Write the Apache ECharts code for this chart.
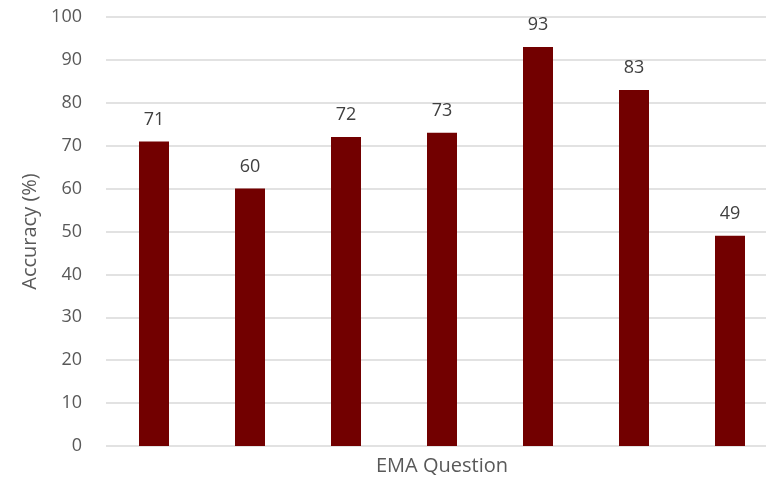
<!DOCTYPE html>
<html><head><meta charset="utf-8">
<script src="https://cdn.jsdelivr.net/npm/echarts@6/dist/echarts.min.js"></script>
<style>html,body{margin:0;padding:0;background:#fff}#c{width:766px;height:481px}</style>
</head><body><div id="c"></div>
<script>
const categories = ['Q1','Q2','Q3','Q4','Q5','Q6','Q7'];
const accuracy = [71, 60, 72, 73, 93, 83, 49];
const yTicks = {min: 0, max: 100, interval: 10};
const chart = echarts.init(document.getElementById('c'));
chart.setOption({
  animation: false,
  grid: {left: 106, top: 17, width: 672, height: 429, containLabel: false, outerBoundsMode: 'none'},
  xAxis: {
    type: 'category', data: categories,
    name: 'EMA Question', nameLocation: 'middle', nameGap: 10,
    nameTextStyle: {color: '#595959', fontSize: 20, fontFamily: 'Open Sans'},
    axisLine: {show: false}, axisTick: {show: false}, axisLabel: {show: false}
  },
  yAxis: {
    type: 'value', min: yTicks.min, max: yTicks.max, interval: yTicks.interval,
    name: 'Accuracy (%)', nameLocation: 'middle', nameGap: 64,
    nameTextStyle: {color: '#595959', fontSize: 20, fontFamily: 'Open Sans'},
    axisLine: {show: false}, axisTick: {show: false},
    axisLabel: {color: '#595959', fontSize: 18, fontFamily: 'Open Sans', margin: 24},
    splitLine: {lineStyle: {color: '#d9d9d9', width: 1.5}}
  },
  series: [{
    type: 'bar', data: accuracy, barWidth: 30,
    itemStyle: {color: '#720000'},
    label: {show: true, position: 'top', distance: 13, color: '#404040', fontSize: 18, fontFamily: 'Open Sans'}
  }]
});
</script></body></html>
